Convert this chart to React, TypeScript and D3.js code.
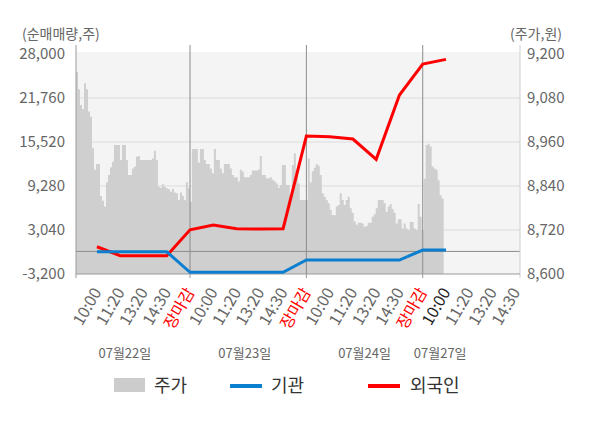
import { useEffect, useRef } from 'react';
import * as d3 from 'd3';

const W = 600;
const H = 428;

// x 축: 날짜별 시간 라벨
const days = ['07월22일', '07월23일', '07월24일', '07월27일'];
const timeLabels = ['10:00', '11:20', '13:20', '14:30', '장마감'];
const dateLabelSlots = [1.2, 6.35, 11.5, 14.75];

// 왼쪽 축 (순매매량)
const leftTicks = [-3200, 3040, 9280, 15520, 21760, 28000];
const leftTickLabels = ['-3,200', '3,040', '9,280', '15,520', '21,760', '28,000'];
// 오른쪽 축 (주가)
const rightTicks = [8600, 8720, 8840, 8960, 9080, 9200];
const rightTickLabels = ['8,600', '8,720', '8,840', '8,960', '9,080', '9,200'];

// 기관 / 외국인 순매매량 (tick 위치별)
const institution = [-50, -50, -50, -50, -2964, -2964, -2964, -2964, -2964, -1220, -1220, -1220, -1220, -1220, 200, 200];
const foreign = [666, -610, -610, -610, 3070, 3740, 3220, 3180, 3220, 16364, 16265, 15939, 13060, 22178, 26574, 27240];

// 주가 (분봉)
const price0722 = [
  9151, 9104, 9061, 9050, 9120, 9104, 9043, 9029, 8943, 8884,
  8900, 8900, 8813, 8800, 8784, 8850, 8870, 8891, 8906, 8952,
  8952, 8952, 8911, 8952, 8952, 8911, 8870, 8870, 8888, 8893,
  8920, 8922, 8911, 8911, 8911, 8911, 8911, 8911, 8915, 8936,
  8911, 8838, 8835, 8845, 8838, 8834, 8832, 8824, 8832, 8822,
  8820, 8802, 8822, 8813, 8802, 8850, 8834, 8797
];
const price0723 = [
  8941, 8941, 8941, 8904, 8941, 8941, 8911, 8900, 8900, 8888,
  8875, 8941, 8911, 8911, 8888, 8875, 8900, 8900, 8900, 8888,
  8870, 8864, 8864, 8852, 8884, 8879, 8864, 8864, 8864, 8870,
  8882, 8882, 8882, 8884, 8922, 8870, 8870, 8861, 8861, 8864,
  8857, 8852, 8847, 8835, 8843, 8897, 8897, 8843, 8843, 8811,
  8897, 8929, 8884, 8847, 8802, 8802, 8802, 8802
];
const price0724 = [
  8915, 8850, 8880, 8890, 8900, 8895, 8870, 8820, 8811, 8802,
  8793, 8775, 8761, 8760, 8784, 8788, 8820, 8802, 8788, 8802,
  8811, 8779, 8767, 8743, 8734, 8740, 8740, 8738, 8729, 8731,
  8740, 8740, 8756, 8763, 8779, 8802, 8802, 8802, 8793, 8770,
  8784, 8791, 8777, 8767, 8738, 8749, 8749, 8724, 8738, 8724,
  8720, 8742, 8742, 8724, 8720, 8791, 8756, 8720
];
const price0727 = [8860, 8952, 8955, 8948, 8893, 8888, 8884, 8856, 8815, 8806, 8790];

const FONT = '"Noto Sans CJK KR", "Noto Sans", sans-serif';

export default function App() {
  const svgRef = useRef<SVGSVGElement>(null);

  useEffect(() => {
    if (!svgRef.current) return;
    const svg = d3.select(svgRef.current);
    svg.selectAll('*').remove();

    const left = 76, right = 520, top = 54, bottom = 274;

    const x = d3.scaleLinear().domain([-0.9, 18.18]).range([left, right]);
    const yL = d3.scaleLinear().domain([-3200, 28000]).range([bottom, top]);
    const yR = d3.scaleLinear().domain([8600, 9200]).range([bottom, top]);

    const prices = [...price0722, ...price0723, ...price0724, ...price0727];
    const xp = d3.scaleLinear().domain([0, prices.length - 1]).range([x(-0.9), x(14.9)]);

    // 배경
    svg.append('rect')
      .attr('x', left).attr('y', 52)
      .attr('width', right - left).attr('height', bottom - 52)
      .attr('fill', '#f4f4f4');

    // 가로 격자
    svg.append('g').selectAll('line')
      .data(leftTicks.slice(1, -1))
      .enter().append('line')
      .attr('x1', left).attr('x2', right)
      .attr('y1', d => yL(d)).attr('y2', d => yL(d))
      .attr('stroke', '#dcdcdc').attr('stroke-width', 1);

    // 주가 영역
    const area = d3.area<number>()
      .x((_, i) => xp(i))
      .y0(bottom)
      .y1(d => yR(d))
      .curve(d3.curveStepAfter);
    svg.append('path')
      .datum(prices)
      .attr('d', area)
      .attr('fill', '#cfcfcf');

    // 0 기준선
    svg.append('line')
      .attr('x1', left).attr('x2', right)
      .attr('y1', yL(0)).attr('y2', yL(0))
      .attr('stroke', '#8c8c8c').attr('stroke-width', 1);

    // 날짜 구분선
    svg.append('g').selectAll('line')
      .data([4, 9, 14])
      .enter().append('line')
      .attr('x1', d => x(d)).attr('x2', d => x(d))
      .attr('y1', 45).attr('y2', bottom)
      .attr('stroke', '#8c8c8c').attr('stroke-width', 1);

    // 좌우 축선
    svg.append('line')
      .attr('x1', left).attr('x2', left).attr('y1', 45).attr('y2', bottom + 4)
      .attr('stroke', '#9a9a9a');
    svg.append('line')
      .attr('x1', right).attr('x2', right).attr('y1', 45).attr('y2', bottom + 4)
      .attr('stroke', '#d0d0d0');
    svg.append('line')
      .attr('x1', left).attr('x2', right).attr('y1', bottom).attr('y2', bottom)
      .attr('stroke', '#9a9a9a');
    svg.append('g').selectAll('line')
      .data([4, 9, 14])
      .enter().append('line')
      .attr('x1', d => x(d)).attr('x2', d => x(d))
      .attr('y1', bottom).attr('y2', bottom + 4)
      .attr('stroke', '#9a9a9a');

    // 선
    const line = d3.line<number>()
      .x((_, i) => x(i))
      .y(d => yL(d));
    svg.append('path')
      .datum(foreign)
      .attr('d', line)
      .attr('fill', 'none')
      .attr('stroke', '#ff0000')
      .attr('stroke-width', 3);
    svg.append('path')
      .datum(institution)
      .attr('d', line)
      .attr('fill', 'none')
      .attr('stroke', '#0b7fcf')
      .attr('stroke-width', 3);

    // 왼쪽 축 라벨
    svg.append('g').selectAll('text')
      .data(leftTicks)
      .enter().append('text')
      .attr('x', left - 11)
      .attr('y', d => yL(d))
      .attr('dy', '0.35em')
      .attr('text-anchor', 'end')
      .attr('font-size', 15)
      .attr('fill', '#666')
      .text((_, i) => leftTickLabels[i]);

    // 오른쪽 축 라벨
    svg.append('g').selectAll('text')
      .data(rightTicks)
      .enter().append('text')
      .attr('x', right + 7)
      .attr('y', d => yR(d))
      .attr('dy', '0.35em')
      .attr('text-anchor', 'start')
      .attr('font-size', 15)
      .attr('fill', '#666')
      .text((_, i) => rightTickLabels[i]);

    // 축 제목
    svg.append('text')
      .attr('x', 22).attr('y', 34).attr('dy', '0.35em')
      .attr('font-size', 14).attr('fill', '#666')
      .text('(순매매량,주)');
    svg.append('text')
      .attr('x', 562).attr('y', 34).attr('dy', '0.35em')
      .attr('text-anchor', 'end')
      .attr('font-size', 14).attr('fill', '#666')
      .text('(주가,원)');

    // x 축 시간 라벨
    const xLabels: { label: string; color: string }[] = [];
    days.forEach((_, d) => {
      timeLabels.forEach((t, j) => {
        if (d === days.length - 1 && j === timeLabels.length - 1) return;
        let color = '#666';
        if (t === '장마감') color = '#ff0000';
        if (d === days.length - 1 && j === 0) color = '#222';
        xLabels.push({ label: t, color });
      });
    });
    svg.append('g').selectAll('text')
      .data(xLabels)
      .enter().append('text')
      .attr('transform', (_, i) => `translate(${x(i) + 5},${bottom + 18}) rotate(-60)`)
      .attr('text-anchor', 'end')
      .attr('font-size', 16)
      .attr('fill', d => d.color)
      .text(d => d.label);

    // 날짜 라벨
    svg.append('g').selectAll('text')
      .data(days)
      .enter().append('text')
      .attr('x', (_, i) => x(dateLabelSlots[i]))
      .attr('y', 353)
      .attr('dy', '0.35em')
      .attr('text-anchor', 'middle')
      .attr('font-size', 13)
      .attr('fill', '#666')
      .text(d => d);

    // 범례
    const lg = svg.append('g');
    lg.append('rect').attr('x', 114).attr('y', 378).attr('width', 31).attr('height', 14).attr('fill', '#cccccc');
    lg.append('text').attr('x', 154).attr('y', 386).attr('dy', '0.35em').attr('font-size', 18).attr('fill', '#333').text('주가');
    lg.append('line').attr('x1', 230).attr('x2', 262).attr('y1', 386).attr('y2', 386).attr('stroke', '#0b7fcf').attr('stroke-width', 4);
    lg.append('text').attr('x', 271).attr('y', 386).attr('dy', '0.35em').attr('font-size', 18).attr('fill', '#333').text('기관');
    lg.append('line').attr('x1', 368).attr('x2', 400).attr('y1', 386).attr('y2', 386).attr('stroke', '#ff0000').attr('stroke-width', 4);
    lg.append('text').attr('x', 410).attr('y', 386).attr('dy', '0.35em').attr('font-size', 18).attr('fill', '#333').text('외국인');
  }, []);

  return (
    <svg
      ref={svgRef}
      width={W}
      height={H}
      style={{ position: 'absolute', left: 0, top: 0, background: '#fff', fontFamily: FONT }}
    />
  );
}
